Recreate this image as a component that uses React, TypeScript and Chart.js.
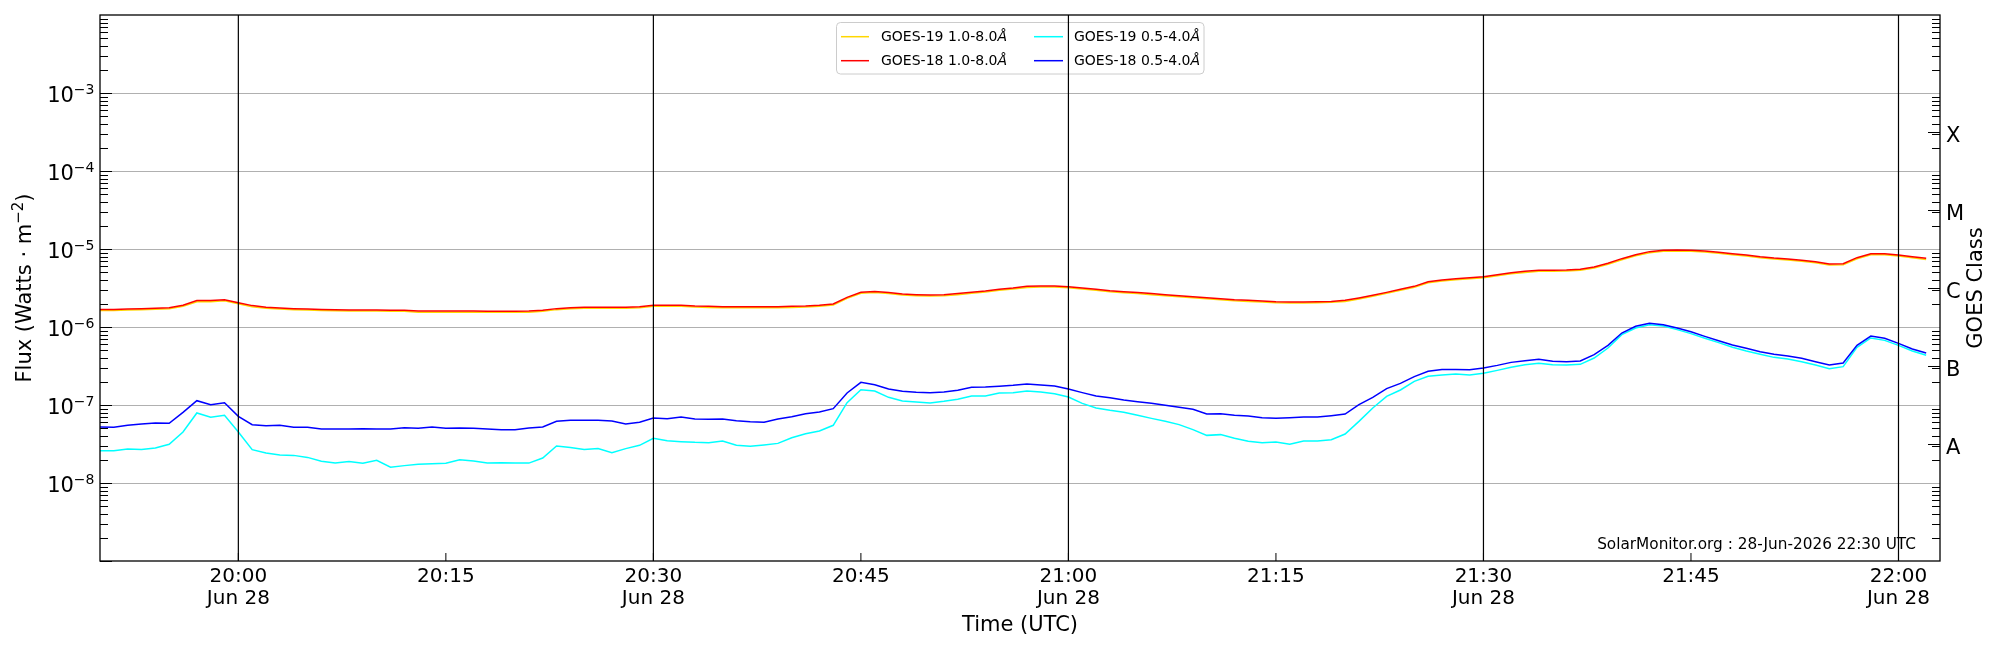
import React, { useEffect, useRef } from "react";
import { Chart, registerables } from "chart.js";

Chart.register(...registerables);

// ---------- data ----------
const START_TIME = "19:50";
const SAMPLE_COUNT = 133; // one sample per minute, 19:50 .. 22:02
const AXIS_START = "19:50";
const AXIS_END = "22:03";
const TICK_TIMES = ["20:00", "20:15", "20:30", "20:45", "21:00", "21:15", "21:30", "21:45", "22:00"];
const VLINE_TIMES = ["20:00", "20:30", "21:00", "21:30", "22:00"];
const DATE_LABEL = "Jun 28";
const Y_MIN = 1e-9;
const Y_MAX = 1e-2;
const Y_LABEL_EXPONENTS = [-8, -7, -6, -5, -4, -3];
const GRID_EXPONENTS = [-8, -7, -6, -5, -4, -3];
const CLASS_LABELS = ["A", "B", "C", "M", "X"];
const CLASS_EXPONENTS = [-7.5, -6.5, -5.5, -4.5, -3.5];
const SERIES_NAMES = ["GOES-19 1.0-8.0", "GOES-18 1.0-8.0", "GOES-19 0.5-4.0", "GOES-18 0.5-4.0"];
const WATERMARK = "SolarMonitor.org : 28-Jun-2026 22:30 UTC";

const G19_LONG = [
  1.63e-6, 1.63e-6, 1.65e-6, 1.67e-6, 1.69e-6, 1.72e-6, 1.84e-6, 2.11e-6, 2.11e-6, 2.17e-6, 1.99e-6, 1.82e-6, 1.74e-6, 1.70e-6, 1.67e-6, 1.65e-6, 1.63e-6, 1.62e-6, 1.60e-6, 1.60e-6, 1.60e-6, 1.59e-6, 1.59e-6,
  1.55e-6, 1.55e-6, 1.55e-6, 1.55e-6, 1.55e-6, 1.54e-6, 1.54e-6, 1.54e-6, 1.55e-6, 1.59e-6, 1.67e-6, 1.72e-6, 1.74e-6, 1.74e-6, 1.74e-6, 1.74e-6, 1.77e-6, 1.84e-6, 1.84e-6, 1.84e-6, 1.80e-6, 1.78e-6,
  1.77e-6, 1.77e-6, 1.77e-6, 1.77e-6, 1.77e-6, 1.78e-6, 1.80e-6, 1.84e-6, 1.91e-6, 2.33e-6, 2.70e-6, 2.77e-6, 2.68e-6, 2.57e-6, 2.52e-6, 2.49e-6, 2.52e-6, 2.60e-6, 2.70e-6, 2.80e-6, 2.95e-6, 3.07e-6,
  3.22e-6, 3.25e-6, 3.25e-6, 3.19e-6, 3.07e-6, 2.95e-6, 2.83e-6, 2.75e-6, 2.68e-6, 2.60e-6, 2.52e-6, 2.44e-6, 2.38e-6, 2.31e-6, 2.24e-6, 2.17e-6, 2.13e-6, 2.09e-6, 2.05e-6, 2.03e-6, 2.03e-6, 2.05e-6,
  2.07e-6, 2.13e-6, 2.29e-6, 2.47e-6, 2.70e-6, 2.95e-6, 3.22e-6, 3.70e-6, 3.88e-6, 4.04e-6, 4.16e-6, 4.29e-6, 4.55e-6, 4.82e-6, 5.01e-6, 5.17e-6, 5.17e-6, 5.22e-6, 5.33e-6, 5.70e-6, 6.35e-6, 7.29e-6, 8.20e-6,
  8.97e-6, 9.33e-6, 9.42e-6, 9.33e-6, 9.15e-6, 8.79e-6, 8.45e-6, 8.12e-6, 7.73e-6, 7.43e-6, 7.22e-6, 6.95e-6, 6.67e-6, 6.23e-6, 6.30e-6, 7.51e-6, 8.45e-6, 8.45e-6, 8.12e-6, 7.73e-6, 7.36e-6,
];

const G18_LONG = [
  1.68e-6, 1.68e-6, 1.70e-6, 1.72e-6, 1.74e-6, 1.77e-6, 1.90e-6, 2.18e-6, 2.18e-6, 2.24e-6, 2.05e-6, 1.88e-6, 1.79e-6, 1.75e-6, 1.72e-6, 1.70e-6, 1.68e-6, 1.67e-6, 1.65e-6, 1.65e-6, 1.65e-6, 1.64e-6, 1.64e-6,
  1.60e-6, 1.60e-6, 1.60e-6, 1.60e-6, 1.60e-6, 1.59e-6, 1.59e-6, 1.59e-6, 1.60e-6, 1.64e-6, 1.72e-6, 1.77e-6, 1.79e-6, 1.79e-6, 1.79e-6, 1.79e-6, 1.82e-6, 1.90e-6, 1.90e-6, 1.90e-6, 1.86e-6, 1.84e-6,
  1.82e-6, 1.82e-6, 1.82e-6, 1.82e-6, 1.82e-6, 1.84e-6, 1.86e-6, 1.90e-6, 1.97e-6, 2.40e-6, 2.78e-6, 2.86e-6, 2.76e-6, 2.65e-6, 2.60e-6, 2.57e-6, 2.60e-6, 2.68e-6, 2.78e-6, 2.89e-6, 3.04e-6, 3.16e-6,
  3.32e-6, 3.35e-6, 3.35e-6, 3.29e-6, 3.16e-6, 3.04e-6, 2.92e-6, 2.84e-6, 2.76e-6, 2.68e-6, 2.60e-6, 2.52e-6, 2.45e-6, 2.38e-6, 2.31e-6, 2.24e-6, 2.20e-6, 2.15e-6, 2.11e-6, 2.09e-6, 2.09e-6, 2.11e-6,
  2.13e-6, 2.20e-6, 2.36e-6, 2.55e-6, 2.78e-6, 3.04e-6, 3.32e-6, 3.81e-6, 4.00e-6, 4.17e-6, 4.29e-6, 4.42e-6, 4.69e-6, 4.97e-6, 5.17e-6, 5.33e-6, 5.33e-6, 5.38e-6, 5.49e-6, 5.88e-6, 6.55e-6, 7.52e-6, 8.45e-6,
  9.25e-6, 9.62e-6, 9.71e-6, 9.62e-6, 9.43e-6, 9.06e-6, 8.71e-6, 8.37e-6, 7.97e-6, 7.66e-6, 7.44e-6, 7.16e-6, 6.88e-6, 6.42e-6, 6.49e-6, 7.74e-6, 8.71e-6, 8.71e-6, 8.37e-6, 7.97e-6, 7.59e-6,
];

const G19_SHORT = [
  2.60e-8, 2.60e-8, 2.73e-8, 2.68e-8, 2.81e-8, 3.13e-8, 4.51e-8, 7.90e-8, 6.95e-8, 7.37e-8, 4.51e-8, 2.68e-8, 2.42e-8, 2.29e-8, 2.26e-8, 2.13e-8, 1.90e-8, 1.80e-8, 1.88e-8, 1.79e-8, 1.95e-8, 1.59e-8, 1.67e-8,
  1.74e-8, 1.77e-8, 1.79e-8, 1.99e-8, 1.91e-8, 1.80e-8, 1.82e-8, 1.80e-8, 1.80e-8, 2.09e-8, 2.98e-8, 2.86e-8, 2.68e-8, 2.76e-8, 2.45e-8, 2.76e-8, 3.04e-8, 3.74e-8, 3.49e-8, 3.39e-8, 3.32e-8, 3.29e-8,
  3.46e-8, 3.04e-8, 2.95e-8, 3.07e-8, 3.22e-8, 3.81e-8, 4.29e-8, 4.64e-8, 5.49e-8, 1.071e-7, 1.573e-7, 1.512e-7, 1.254e-7, 1.125e-7, 1.092e-7, 1.061e-7, 1.114e-7, 1.182e-7, 1.304e-7, 1.304e-7, 1.425e-7, 1.44e-7,
  1.512e-7, 1.468e-7, 1.397e-7, 1.267e-7, 1.05e-7, 9.15e-8, 8.54e-8, 8.06e-8, 7.37e-8, 6.74e-8, 6.17e-8, 5.60e-8, 4.83e-8, 4.08e-8, 4.17e-8, 3.74e-8, 3.42e-8, 3.29e-8, 3.35e-8, 3.13e-8, 3.46e-8, 3.46e-8,
  3.59e-8, 4.25e-8, 6.17e-8, 9.15e-8, 1.291e-7, 1.557e-7, 2.01e-7, 2.33e-7, 2.42e-7, 2.50e-7, 2.42e-7, 2.55e-7, 2.78e-7, 3.04e-7, 3.29e-7, 3.42e-7, 3.29e-7, 3.26e-7, 3.32e-7, 4.00e-7, 5.38e-7, 7.97e-7, 9.71e-7,
  1.071e-6, 1.03e-6, 9.25e-7, 8.22e-7, 7.16e-7, 6.30e-7, 5.49e-7, 4.92e-7, 4.47e-7, 4.08e-7, 3.89e-7, 3.59e-7, 3.26e-7, 2.92e-7, 3.10e-7, 5.49e-7, 7.23e-7, 6.74e-7, 5.82e-7, 4.92e-7, 4.34e-7,
];

const G18_SHORT = [
  5.22e-8, 5.17e-8, 5.49e-8, 5.71e-8, 5.88e-8, 5.82e-8, 8.06e-8, 1.136e-7, 1.01e-7, 1.071e-7, 7.16e-8, 5.60e-8, 5.43e-8, 5.49e-8, 5.17e-8, 5.17e-8, 4.92e-8, 4.92e-8, 4.92e-8, 4.97e-8, 4.92e-8, 4.92e-8, 5.12e-8,
  5.02e-8, 5.22e-8, 5.02e-8, 5.07e-8, 5.02e-8, 4.92e-8, 4.83e-8, 4.83e-8, 5.07e-8, 5.22e-8, 6.17e-8, 6.36e-8, 6.36e-8, 6.36e-8, 6.23e-8, 5.71e-8, 6.00e-8, 6.81e-8, 6.68e-8, 7.02e-8, 6.61e-8, 6.55e-8,
  6.61e-8, 6.30e-8, 6.12e-8, 6.00e-8, 6.61e-8, 7.09e-8, 7.74e-8, 8.14e-8, 8.97e-8, 1.425e-7, 1.952e-7, 1.822e-7, 1.604e-7, 1.497e-7, 1.453e-7, 1.44e-7, 1.468e-7, 1.542e-7, 1.684e-7, 1.70e-7, 1.735e-7, 1.786e-7,
  1.86e-7, 1.804e-7, 1.75e-7, 1.60e-7, 1.44e-7, 1.304e-7, 1.242e-7, 1.159e-7, 1.103e-7, 1.05e-7, 9.90e-8, 9.33e-8, 8.80e-8, 7.66e-8, 7.74e-8, 7.37e-8, 7.23e-8, 6.88e-8, 6.74e-8, 6.88e-8, 7.02e-8, 7.02e-8,
  7.30e-8, 7.66e-8, 1.01e-7, 1.254e-7, 1.62e-7, 1.896e-7, 2.31e-7, 2.70e-7, 2.86e-7, 2.86e-7, 2.84e-7, 2.98e-7, 3.22e-7, 3.52e-7, 3.70e-7, 3.85e-7, 3.63e-7, 3.59e-7, 3.67e-7, 4.42e-7, 5.82e-7, 8.37e-7, 1.02e-6,
  1.114e-6, 1.071e-6, 9.71e-7, 8.71e-7, 7.59e-7, 6.68e-7, 5.88e-7, 5.33e-7, 4.83e-7, 4.47e-7, 4.25e-7, 3.97e-7, 3.59e-7, 3.26e-7, 3.46e-7, 5.82e-7, 7.66e-7, 7.16e-7, 6.17e-7, 5.22e-7, 4.64e-7,
];

// ---------- helpers ----------
const toMin = (t: string) => {
  const [h, m] = t.split(":").map(Number);
  return h * 60 + m;
};
const fmt = (min: number) =>
  `${String(Math.floor(min / 60)).padStart(2, "0")}:${String(min % 60).padStart(2, "0")}`;
const TIMES = Array.from({ length: SAMPLE_COUNT }, (_, i) => fmt(toMin(START_TIME) + i));

const FONT = '"DejaVu Sans", "Liberation Sans", sans-serif';
const COLORS = ["#ffd700", "#ff0000", "#00ffff", "#0000ff"];

const points = (vals: number[]) => vals.map((v, i) => ({ x: toMin(TIMES[i]), y: v }));

const decorPlugin = {
  id: "goesDecor",
  beforeDatasetsDraw(chart: any) {
    const { ctx, chartArea: a, scales } = chart;
    const y = scales.y;
    ctx.save();
    ctx.strokeStyle = "#b0b0b0";
    ctx.lineWidth = 1;
    for (const e of GRID_EXPONENTS) {
      const py = Math.round(y.getPixelForValue(Math.pow(10, e))) + 0.5;
      ctx.beginPath();
      ctx.moveTo(a.left, py);
      ctx.lineTo(a.right, py);
      ctx.stroke();
    }
    ctx.restore();
  },
  afterDatasetsDraw(chart: any) {
    const { ctx, chartArea: a, scales } = chart;
    const x = scales.x;
    const y = scales.y;
    ctx.save();

    // legend
    const lx = 836.5, ly = 22.5, lw = 367.5, lh = 51.5;
    ctx.beginPath();
    (ctx as any).roundRect(lx, ly, lw, lh, 4);
    ctx.fillStyle = "rgba(255,255,255,0.8)";
    ctx.fill();
    ctx.strokeStyle = "#cccccc";
    ctx.lineWidth = 1;
    ctx.stroke();
    const rows = [36.7, 60.7];
    const cols = [
      { l0: 841, l1: 869, t: 881 },
      { l0: 1034, l1: 1063, t: 1074 },
    ];
    SERIES_NAMES.forEach((name, i) => {
      const c = cols[Math.floor(i / 2)];
      const ry = rows[i % 2];
      ctx.strokeStyle = COLORS[i];
      ctx.lineWidth = 1.5;
      ctx.beginPath();
      ctx.moveTo(c.l0, ry);
      ctx.lineTo(c.l1, ry);
      ctx.stroke();
      ctx.fillStyle = "#000";
      ctx.textBaseline = "middle";
      ctx.textAlign = "left";
      ctx.font = `14px ${FONT}`;
      ctx.fillText(name, c.t, ry + 1);
      const w = ctx.measureText(name).width;
      ctx.font = `italic 14px ${FONT}`;
      ctx.fillText("\u00C5", c.t + w, ry + 1);
    });

    // vertical black lines
    ctx.strokeStyle = "#000";
    ctx.lineWidth = 1.2;
    for (const t of VLINE_TIMES) {
      const px = x.getPixelForValue(toMin(t));
      ctx.beginPath();
      ctx.moveTo(px, a.top);
      ctx.lineTo(px, a.bottom);
      ctx.stroke();
    }

    // ticks
    ctx.lineWidth = 1;
    ctx.strokeStyle = "#000";
    for (const t of TICK_TIMES) {
      const px = x.getPixelForValue(toMin(t));
      ctx.beginPath();
      ctx.moveTo(px, a.bottom);
      ctx.lineTo(px, a.bottom - 8);
      ctx.stroke();
    }
    for (let d = -9; d <= -3; d++) {
      for (let k = 1; k <= 9; k++) {
        const v = k * Math.pow(10, d);
        if (v <= Y_MIN * 0.999 || v >= Y_MAX) continue;
        const py = Math.round(y.getPixelForValue(v)) + 0.5;
        const len = k === 1 ? 12 : 8;
        ctx.beginPath();
        ctx.moveTo(a.left, py);
        ctx.lineTo(a.left + len, py);
        ctx.stroke();
        if (k !== 1) {
          ctx.beginPath();
          ctx.moveTo(a.right, py);
          ctx.lineTo(a.right - 8, py);
          ctx.stroke();
        }
      }
    }
    for (const e of CLASS_EXPONENTS) {
      const py = Math.round(y.getPixelForValue(Math.pow(10, e))) + 0.5;
      ctx.beginPath();
      ctx.moveTo(a.right, py);
      ctx.lineTo(a.right - 12, py);
      ctx.stroke();
    }

    // border
    ctx.lineWidth = 1.3;
    ctx.strokeRect(a.left, a.top, a.right - a.left, a.bottom - a.top);

    // y tick labels
    ctx.fillStyle = "#000";
    ctx.textAlign = "right";
    ctx.textBaseline = "alphabetic";
    for (const e of Y_LABEL_EXPONENTS) {
      const py = y.getPixelForValue(Math.pow(10, e));
      const sup = "\u2212" + Math.abs(e);
      const supRight = a.left - 5.5;
      ctx.font = `14px ${FONT}`;
      ctx.fillText(sup, supRight, py + 0.5);
      const sw = ctx.measureText(sup).width;
      ctx.font = `21px ${FONT}`;
      ctx.fillText("10", supRight - sw, py + 9);
    }

    // class labels
    ctx.textAlign = "left";
    ctx.textBaseline = "middle";
    ctx.font = `21px ${FONT}`;
    CLASS_LABELS.forEach((lab, i) => {
      const py = y.getPixelForValue(Math.pow(10, CLASS_EXPONENTS[i]));
      ctx.fillText(lab, a.right + 6, py + 5);
    });

    // x tick labels
    ctx.textAlign = "center";
    ctx.textBaseline = "alphabetic";
    ctx.font = `20px ${FONT}`;
    for (const t of TICK_TIMES) {
      const px = x.getPixelForValue(toMin(t));
      ctx.fillText(t, px, a.bottom + 21);
      if (toMin(t) % 30 === 0) ctx.fillText(DATE_LABEL, px, a.bottom + 43);
    }

    // x title
    ctx.font = `21px ${FONT}`;
    ctx.fillText("Time (UTC)", (a.left + a.right) / 2, 631);

    // y title (rotated)
    const cy = (a.top + a.bottom) / 2;
    ctx.save();
    ctx.translate(31, cy);
    ctx.rotate(-Math.PI / 2);
    ctx.textAlign = "left";
    const p1 = "Flux (Watts \u00B7 m";
    const p2 = "\u22122";
    const p3 = ")";
    ctx.font = `21px ${FONT}`;
    const w1 = ctx.measureText(p1).width;
    const w3 = ctx.measureText(p3).width;
    ctx.font = `15px ${FONT}`;
    const w2 = ctx.measureText(p2).width;
    let sx = -(w1 + w2 + w3) / 2;
    ctx.font = `21px ${FONT}`;
    ctx.fillText(p1, sx, 0);
    sx += w1;
    ctx.font = `15px ${FONT}`;
    ctx.fillText(p2, sx, -8);
    sx += w2;
    ctx.font = `21px ${FONT}`;
    ctx.fillText(p3, sx, 0);
    ctx.restore();

    // right title
    ctx.save();
    ctx.translate(1982, cy);
    ctx.rotate(-Math.PI / 2);
    ctx.textAlign = "center";
    ctx.font = `21px ${FONT}`;
    ctx.fillText("GOES Class", 0, 0);
    ctx.restore();

    // watermark
    ctx.textAlign = "right";
    ctx.font = `15.3px ${FONT}`;
    ctx.fillText(WATERMARK, 1916, 549);

    ctx.restore();
  },
};

export default function App() {
  const ref = useRef<HTMLCanvasElement | null>(null);
  useEffect(() => {
    document.body.style.margin = "0";
    if (!ref.current) return;
    const chart = new Chart(ref.current, {
      type: "line",
      data: {
        datasets: [
          { label: SERIES_NAMES[0], data: points(G19_LONG), borderColor: COLORS[0], order: 4 },
          { label: SERIES_NAMES[1], data: points(G18_LONG), borderColor: COLORS[1], order: 3 },
          { label: SERIES_NAMES[2], data: points(G19_SHORT), borderColor: COLORS[2], order: 2 },
          { label: SERIES_NAMES[3], data: points(G18_SHORT), borderColor: COLORS[3], order: 1 },
        ].map((d) => ({ ...d, borderWidth: 1.5, pointRadius: 0, tension: 0, fill: false })),
      },
      options: {
        animation: false,
        responsive: false,
        events: [],
        layout: { padding: { left: 100, right: 60, top: 15, bottom: 89 } },
        plugins: { legend: { display: false }, tooltip: { enabled: false }, title: { display: false } },
        scales: {
          x: { type: "linear", min: toMin(AXIS_START), max: toMin(AXIS_END), display: false },
          y: { type: "logarithmic", min: Y_MIN, max: Y_MAX, display: false },
        },
      },
      plugins: [decorPlugin],
    });
    return () => chart.destroy();
  }, []);
  return (
    <div style={{ width: 2000, height: 650, background: "#fff" }}>
      <canvas ref={ref} width={2000} height={650} style={{ display: "block" }} />
    </div>
  );
}
